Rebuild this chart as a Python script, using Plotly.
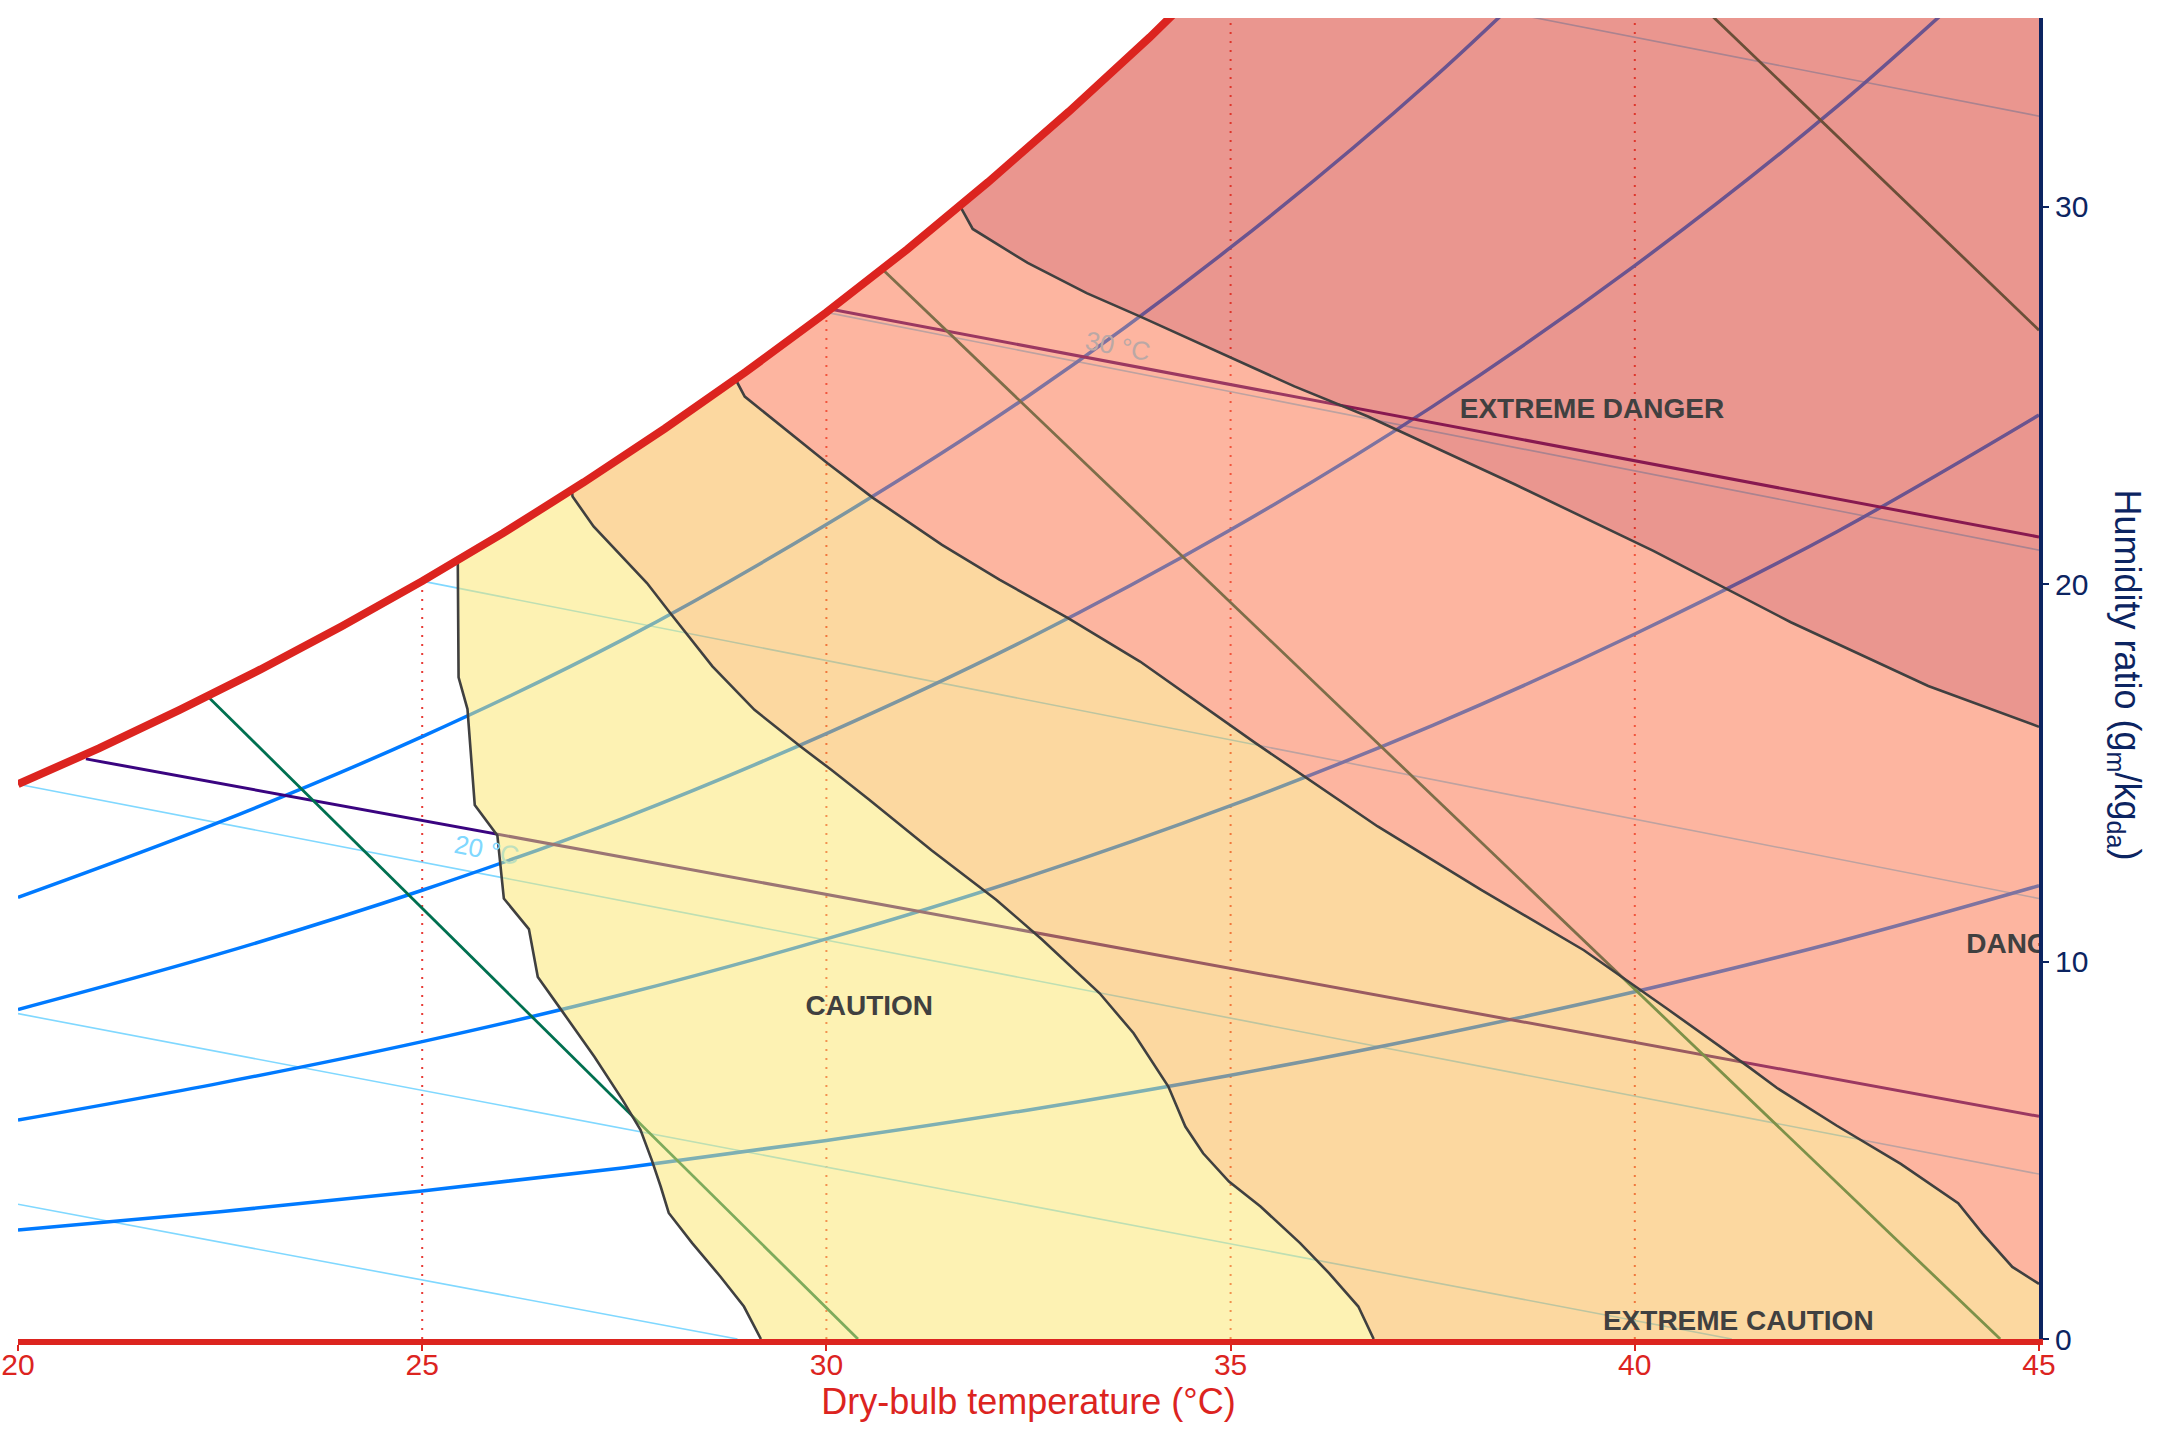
import numpy as np
import plotly.graph_objects as go

# ---------------- data ----------------
# saturation curve (dry-bulb °C, humidity ratio g/kg)
sat_T = [20, 21, 22, 23, 24, 25, 26, 27, 28, 29, 30, 31, 32, 33, 34, 35]
sat_w = [14.70, 15.65, 16.67, 17.74, 18.88, 20.08, 21.35, 22.70, 24.12, 25.62,
         27.20, 28.87, 30.65, 32.52, 34.49, 36.58]

# relative humidity curves
rh_T = [20, 22.5, 25, 27.5, 30, 32.5, 35, 37.5, 40, 42.5, 45]
rh20 = [2.89, 3.37, 3.92, 4.54, 5.26, 6.07, 6.99, 8.03, 9.20, 10.52, 12.01]
rh40 = [5.80, 6.78, 7.88, 9.14, 10.60, 12.25, 14.13, 16.26, 18.68, 21.39, 24.48]
rh60 = [8.73, 10.21, 11.89, 13.81, 16.04, 18.56, 21.44, 24.71, 28.44, 32.65, 37.46]
rh80_T = [20, 22.5, 25, 27.5, 30, 32.5, 35, 37.5, 40]
rh80 = [11.70, 13.70, 15.96, 18.55, 21.58, 24.99, 28.92, 33.39, 38.51]

# wet-bulb lines: (T start, T end), (w start, w end)
wb_lines = {
    "10": ([20, 28.9], [3.57, 0.0]),
    "15": ([20, 41.2], [8.62, 0.0]),
    "20": ([20, 45], [14.70, 4.37]),
    "25": ([25, 45], [20.08, 11.67]),
    "30": ([30, 45], [27.20, 20.90]),
    "35": ([35, 45], [36.58, 32.40]),
}

# indigo lines
ind1_T, ind1_w = [20.84, 45], [15.37, 5.90]
ind2_T, ind2_w = [30.09, 45], [27.27, 21.25]
# green lines
g1_T, g1_w = [22.37, 30.39], [16.98, 0.0]
g2_T, g2_w = [30.68, 44.52], [28.37, 0.0]
g3_T, g3_w = [40.75, 45], [35.48, 26.73]

# dry-bulb grid lines (dotted) and their top (saturation) value
grid_T = [25, 30, 35, 40]
grid_top = [20.08, 27.20, 36.58, 49.0]

# heat-index zone boundaries (from saturation curve downwards)
caution_T = [25.44, 25.45, 25.45, 25.56, 25.63, 25.65, 25.93, 26.01, 26.32, 26.43, 26.70,
             27.13, 27.48, 27.70, 27.84, 27.95, 28.05, 28.34, 28.69, 28.98, 29.19]
caution_w = [20.64, 18.26, 17.53, 16.69, 14.82, 14.15, 13.34, 11.67, 10.86, 9.59, 8.78,
             7.48, 6.33, 5.54, 4.74, 4.04, 3.34, 2.54, 1.65, 0.86, 0.0]

ecaution_T = [26.85, 26.86, 27.12, 27.78, 28.07, 28.59, 29.11, 29.68, 30.06, 30.53, 31.30,
              32.10, 32.67, 33.38, 33.80, 34.23, 34.44, 34.66, 34.98, 35.37, 35.86, 36.22,
              36.58, 36.77]
ecaution_w = [22.50, 22.32, 21.53, 20.03, 19.23, 17.82, 16.67, 15.70, 15.08, 14.29, 12.95,
              11.64, 10.58, 9.16, 8.10, 6.69, 5.63, 4.92, 4.17, 3.51, 2.54, 1.74,
              0.86, 0.0]

danger_T = [28.89, 28.90, 28.99, 29.30, 30.01, 30.58, 31.43, 32.14, 32.99, 33.88, 35.30,
            36.82, 38.10, 39.37, 40.40, 41.42, 41.76, 42.50, 43.29, 44.00, 44.30, 44.67, 45.0]
danger_w = [25.45, 25.33, 24.97, 24.44, 23.21, 22.28, 21.04, 20.12, 19.10, 17.95, 15.80,
            13.58, 11.90, 10.30, 8.75, 7.19, 6.65, 5.65, 4.64, 3.60, 2.80, 1.91, 1.46]

edanger_T = [31.65, 31.81, 32.49, 33.22, 33.87, 34.78, 35.79, 36.70, 38.52, 40.23, 41.93,
             43.63, 45.0]
edanger_w = [30.03, 29.41, 28.51, 27.71, 27.10, 26.21, 25.24, 24.44, 22.64, 20.88, 18.99,
             17.30, 16.22]

zone_names = ["CAUTION", "EXTREME CAUTION", "DANGER", "EXTREME DANGER"]
zone_label_T = [30.53, 41.28, 44.85, 39.47]
zone_label_w = [8.77, 0.43, 10.4, 24.58]

# ---------------- styles ----------------
FONT = "Liberation Sans, Arial, sans-serif"
RED = "rgb(220,36,31)"
NAVY = "rgb(12,36,97)"
RH_C = "rgb(0,122,255)"
WB_C = "rgb(128,216,255)"
IND_C = "rgb(58,4,128)"
GRN_C = "rgb(0,112,80)"
BND_C = "rgb(64,64,64)"
zone_fill = ["rgba(251,229,103,0.5)", "rgba(249,177,65,0.5)",
             "rgba(251,107,65,0.5)", "rgba(213,45,31,0.5)"]

fig = go.Figure()


def line(x, y, color, width, dash=None, shape="linear"):
    fig.add_trace(go.Scatter(x=x, y=y, mode="lines", hoverinfo="skip", showlegend=False,
                             line=dict(color=color, width=width, dash=dash, shape=shape)))


# dotted dry-bulb lines
for t, top in zip(grid_T, grid_top):
    line([t, t], [0, top], "rgb(232,60,55)", 2, dash="2px,7px")

# wet-bulb lines
for k, (xs, ys) in wb_lines.items():
    line(xs, ys, WB_C, 1.6)

# RH curves
for ys in (rh20, rh40, rh60):
    line(rh_T, ys, RH_C, 3.5, shape="spline")
line(rh80_T, rh80, RH_C, 3.5, shape="spline")

# indigo and green lines
line(ind1_T, ind1_w, IND_C, 3)
line(ind2_T, ind2_w, IND_C, 3)
for xs, ys in ((g1_T, g1_w), (g2_T, g2_w), (g3_T, g3_w)):
    line(xs, ys, GRN_C, 2.8)


# ---------------- zone polygons ----------------
def sat_between(t_hi, t_lo):
    ts = [t for t in sat_T if t_lo < t < t_hi][::-1]
    ws = [sat_w[sat_T.index(t)] for t in ts]
    return ts, ws


def poly(parts):
    xs, ys = [], []
    for px, py in parts:
        xs += list(px)
        ys += list(py)
    return xs, ys


s1 = sat_between(ecaution_T[0], caution_T[0])
p_caution = poly([(caution_T, caution_w), (ecaution_T[::-1], ecaution_w[::-1]), s1])
s2 = sat_between(danger_T[0], ecaution_T[0])
p_ecaution = poly([(ecaution_T, ecaution_w), ([45], [0]), (danger_T[::-1], danger_w[::-1]), s2])
s3 = sat_between(edanger_T[0], danger_T[0])
p_danger = poly([(danger_T, danger_w), (edanger_T[::-1], edanger_w[::-1]), s3])
s4 = sat_between(36, edanger_T[0])
p_edanger = poly([(edanger_T, edanger_w), ([45], [40]), s4])

for (xs, ys), col in zip([p_caution, p_ecaution, p_danger, p_edanger], zone_fill):
    fig.add_trace(go.Scatter(x=xs, y=ys, mode="lines", fill="toself", fillcolor=col,
                             line=dict(width=0), hoverinfo="skip", showlegend=False))

# zone boundaries
for xs, ys in ((caution_T, caution_w), (ecaution_T, ecaution_w),
               (danger_T, danger_w), (edanger_T, edanger_w)):
    line(xs, ys, BND_C, 2.6)

# saturation curve
line(sat_T, sat_w, RED, 8)

# zone labels (clipped to plot area)
fig.add_trace(go.Scatter(x=zone_label_T, y=zone_label_w, mode="text",
                         text=["<b>%s</b>" % n for n in zone_names],
                         textfont=dict(family=FONT, size=28, color="rgb(64,64,64)"),
                         textposition="middle center", cliponaxis=True,
                         hoverinfo="skip", showlegend=False))

annotations = [
    dict(x=25.80, y=12.95, xref="x", yref="y", showarrow=False, textangle=11,
         text="<span style='color:rgb(128,216,255)'>20 °</span>"
              "<span style='color:rgb(190,224,190)'>C</span>",
         font=dict(family=FONT, size=26)),
    dict(x=33.60, y=26.30, xref="x", yref="y", showarrow=False, textangle=11,
         text="30 °C", font=dict(family=FONT, size=26, color="rgb(186,168,166)")),
    dict(x=1.055, y=0.503, xref="paper", yref="paper", showarrow=False, textangle=90,
         text="Humidity ratio (g<sub>m</sub>/kg<sub>da</sub>)",
         font=dict(family=FONT, size=36, color=NAVY)),
]

fig.update_layout(
    width=2160, height=1440,
    margin=dict(l=18, r=121, t=18, b=101, autoexpand=False),
    paper_bgcolor="white", plot_bgcolor="white",
    showlegend=False,
    annotations=annotations,
    xaxis=dict(range=[20, 45], tickvals=[20, 25, 30, 35, 40, 45], automargin=False,
               showgrid=False, zeroline=False,
               showline=True, linecolor=RED, linewidth=6,
               ticks="outside", ticklen=6, tickcolor=RED, tickwidth=1.5,
               ticklabelstandoff=-12,
               tickfont=dict(family=FONT, size=30, color=RED),
               title=dict(text="Dry-bulb temperature (°C)", standoff=2,
                          font=dict(family=FONT, size=36, color=RED))),
    yaxis=dict(range=[0, 35], side="right", tickvals=[0, 10, 20, 30], automargin=False,
               showgrid=False, zeroline=False,
               showline=True, linecolor=NAVY, linewidth=4,
               ticks="outside", ticklen=6, tickcolor=NAVY, tickwidth=1.5,
               tickfont=dict(family=FONT, size=30, color=NAVY)),
)

fig.write_html("out.html")
